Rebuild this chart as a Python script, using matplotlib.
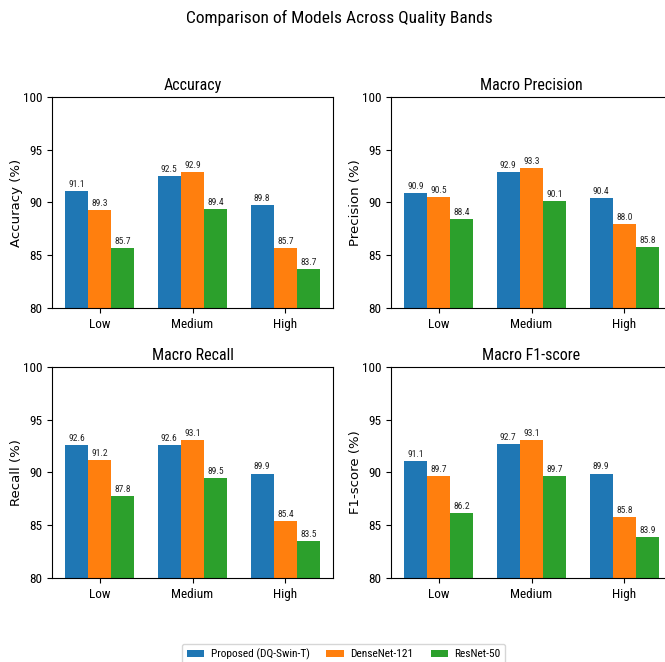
import matplotlib
matplotlib.use("Agg")
import matplotlib.pyplot as plt
import numpy as np

# Quality bands and models compared
bands = ["Low", "Medium", "High"]
models = ["Proposed (DQ-Swin-T)", "DenseNet-121", "ResNet-50"]
colors = ["#1f77b4", "#ff7f0e", "#2ca02c"]

# Scores (%) per model, ordered Low / Medium / High
accuracy_proposed = [91.1, 92.5, 89.8]
accuracy_densenet = [89.3, 92.9, 85.7]
accuracy_resnet = [85.7, 89.4, 83.7]

precision_proposed = [90.9, 92.9, 90.4]
precision_densenet = [90.5, 93.3, 88.0]
precision_resnet = [88.4, 90.1, 85.8]

recall_proposed = [92.6, 92.6, 89.9]
recall_densenet = [91.2, 93.1, 85.4]
recall_resnet = [87.8, 89.5, 83.5]

f1_proposed = [91.1, 92.7, 89.9]
f1_densenet = [89.7, 93.1, 85.8]
f1_resnet = [86.2, 89.7, 83.9]

panels = [
    ("Accuracy", "Accuracy (%)", [accuracy_proposed, accuracy_densenet, accuracy_resnet]),
    ("Macro Precision", "Precision (%)", [precision_proposed, precision_densenet, precision_resnet]),
    ("Macro Recall", "Recall (%)", [recall_proposed, recall_densenet, recall_resnet]),
    ("Macro F1-score", "F1-score (%)", [f1_proposed, f1_densenet, f1_resnet]),
]

# a condensed sans for horizontal text, DejaVu for the rotated axis labels
plt.rcParams["font.family"] = ["Roboto Condensed", "Noto Sans CJK JP", "DejaVu Sans"]

fig = plt.figure(figsize=(6.65, 6.62), dpi=100)
W, H = 665.0, 662.0

# axes boxes in pixels: (left, top, right, bottom)
boxes = [
    (52, 97, 333, 308),
    (391, 97, 672, 308),
    (52, 367, 333, 578),
    (391, 367, 672, 578),
]

x = np.arange(len(bands))
width = 0.25
handles = []
for (title, ylabel, series), (l, t, r, b) in zip(panels, boxes):
    ax = fig.add_axes([l / W, 1 - b / H, (r - l) / W, (b - t) / H])
    for i, (vals, c, name) in enumerate(zip(series, colors, models)):
        bars = ax.bar(x + (i - 1) * width, vals, width, color=c, label=name)
        if title == "Accuracy":
            handles.append(bars)
        for rect, v in zip(bars, vals):
            ax.annotate(f"{v:.1f}", (rect.get_x() + rect.get_width() / 2, v),
                        xytext=(0, 1.5), textcoords="offset points",
                        ha="center", va="bottom", fontsize=6.8, color="#222222")
    ax.set_ylim(80, 100)
    ax.set_yticks([80, 85, 90, 95, 100])
    ax.set_xticks(x)
    ax.set_xticklabels(bands)
    ax.tick_params(labelsize=9.5)
    ax.set_title(title, fontsize=11.5, pad=5)
    ax.set_ylabel(ylabel, fontsize=9.5, family="DejaVu Sans", labelpad=0)

fig.suptitle("Comparison of Models Across Quality Bands", fontsize=12.5,
             x=339 / W, y=1 - 10 / H, va="top")

fig.legend(handles, models, loc="upper center", ncol=3,
           bbox_to_anchor=(343.7 / W, 1 - 644 / H), fontsize=8.2,
           handlelength=1.5, handletextpad=0.6, columnspacing=1.5,
           frameon=True, borderaxespad=0)

fig.savefig("out.png", dpi=100)
